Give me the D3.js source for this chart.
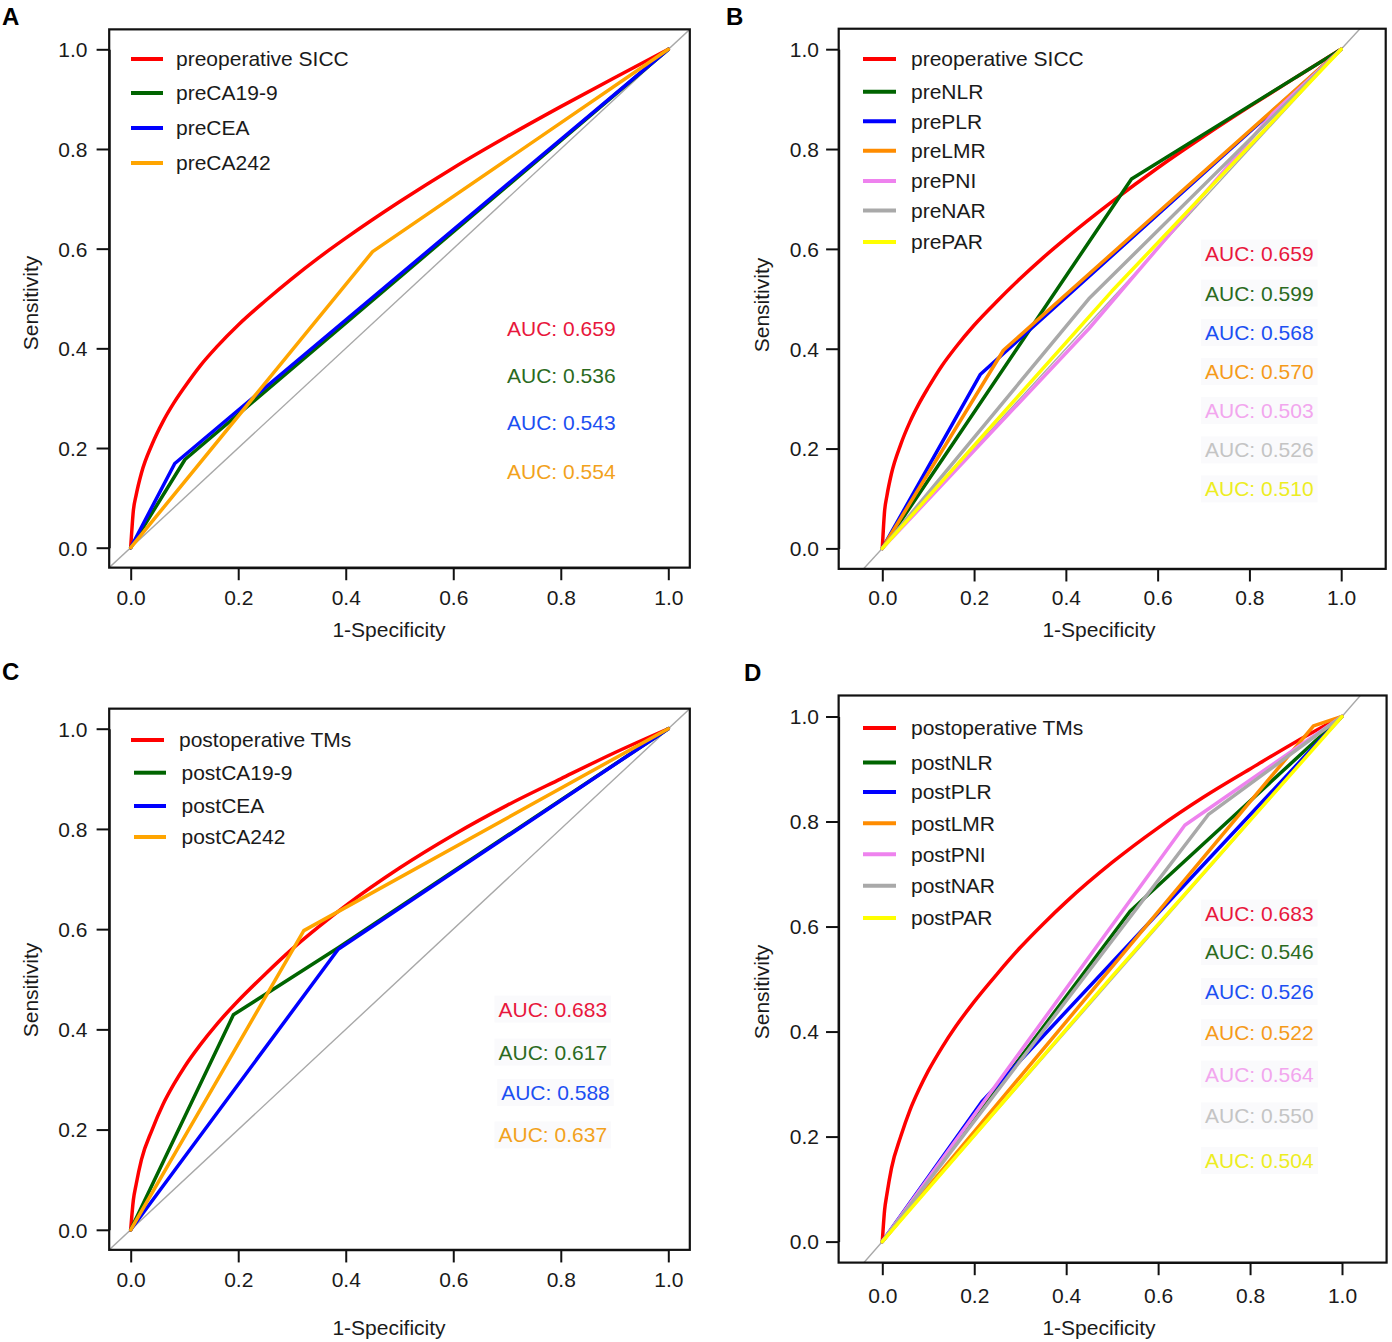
<!DOCTYPE html>
<html>
<head>
<meta charset="utf-8">
<script src="https://cdn.jsdelivr.net/npm/d3@7"></script>
<style>
  body { margin: 0; background: #fff; }
  text { font-family: "Liberation Sans", Arial, Helvetica, sans-serif; fill: #1a1a1a; }
</style>
</head>
<body>
<svg id="fig" width="1392" height="1342"></svg>
<script>
(function() {

  // tick values shared by every axis
  const tickValues = [0, 0.2, 0.4, 0.6, 0.8, 1.0];

  // smoothed ROC of the combined models, [1-specificity, sensitivity]
  const preSICC = [[0, 0], [0.005, 0.075], [0.01, 0.105], [0.02, 0.15], [0.04, 0.208], [0.06, 0.253],
    [0.08, 0.29], [0.1, 0.322], [0.13, 0.366], [0.16, 0.403], [0.2, 0.447], [0.25, 0.495],
    [0.3, 0.54], [0.35, 0.582], [0.4, 0.621], [0.5, 0.694], [0.6, 0.762], [0.7, 0.825],
    [0.8, 0.885], [0.9, 0.943], [1, 1]];
  const postTMs = [[0, 0], [0.005, 0.06], [0.01, 0.09], [0.02, 0.14], [0.04, 0.2], [0.06, 0.25],
    [0.08, 0.29], [0.1, 0.325], [0.13, 0.37], [0.16, 0.41], [0.2, 0.457], [0.25, 0.51],
    [0.3, 0.56], [0.35, 0.605], [0.4, 0.647], [0.5, 0.722], [0.6, 0.788], [0.7, 0.847],
    [0.8, 0.9], [0.9, 0.952], [1, 1]];

  // panel A
  const preCA199 = [[0, 0], [0.101, 0.177], [1, 1]];
  const preCEA = [[0, 0], [0.082, 0.169], [1, 1]];
  const preCA242 = [[0, 0], [0.45, 0.594], [1, 1]];
  const namesA = ['preoperative SICC', 'preCA19-9', 'preCEA', 'preCA242'];
  const aucA = ['0.659', '0.536', '0.543', '0.554'];

  // panel B
  const preNLR = [[0, 0], [0.543, 0.74], [1, 1]];
  const prePLR = [[0, 0], [0.214, 0.349], [1, 1]];
  const preLMR = [[0, 0], [0.264, 0.397], [1, 1]];
  const prePNI = [[0, 0], [0.45, 0.44], [0.85, 0.87], [1, 1]];
  const preNAR = [[0, 0], [0.45, 0.5], [1, 1]];
  const prePAR = [[0, 0], [0.5, 0.515], [1, 1]];
  const namesB = ['preoperative SICC', 'preNLR', 'prePLR', 'preLMR', 'prePNI', 'preNAR', 'prePAR'];
  const aucB = ['0.659', '0.599', '0.568', '0.570', '0.503', '0.526', '0.510'];

  // panel C
  const postCA199 = [[0, 0], [0.191, 0.429], [0.386, 0.563], [1, 1]];
  const postCEA = [[0, 0], [0.386, 0.56], [1, 1]];
  const postCA242 = [[0, 0], [0.322, 0.597], [1, 1]];
  const namesC = ['postoperative TMs', 'postCA19-9', 'postCEA', 'postCA242'];
  const aucC = ['0.683', '0.617', '0.588', '0.637'];

  // panel D
  const postNLR = [[0, 0], [0.539, 0.629], [1, 1]];
  const postPLR = [[0, 0], [0.218, 0.268], [1, 1]];
  const postLMR = [[0, 0], [0.938, 0.982], [1, 1]];
  const postPNI = [[0, 0], [0.658, 0.793], [1, 1]];
  const postNAR = [[0, 0], [0.709, 0.813], [1, 1]];
  const postPAR = [[0, 0], [0.5, 0.505], [1, 1]];
  const namesD = ['postoperative TMs', 'postNLR', 'postPLR', 'postLMR', 'postPNI', 'postNAR', 'postPAR'];
  const aucD = ['0.683', '0.546', '0.526', '0.522', '0.564', '0.550', '0.504'];

  const lineColors4 = ['#ff0000', '#006400', '#0000ff', '#ffa500'];
  const textColors4 = ['#e8173c', '#2b6a1e', '#1c4ff2', '#f2a21c'];
  const lineColors7 = ['#ff0000', '#006400', '#0000ff', '#ff8c00', '#ee82ee', '#a9a9a9', '#ffff00'];
  const textColors7 = ['#e8173c', '#2b6a1e', '#1c4ff2', '#f59a1a', '#f2a6ee', '#c4c4c4', '#eded22'];

  const panels = [
    {
      letter: 'A', letterX: 2, letterY: 25,
      series: [preSICC, preCA199, preCEA, preCA242], smooth: 0,
      names: namesA, auc: aucA, lineColors: lineColors4, textColors: textColors4,
      xRange: [130.7, 668.3], yRange: [547.7, 49.3], xLim: [-0.04, 1.04], yLim: [-0.04, 1.04],
      xLabY: 598, yLabX: 87.5, xTitle: [389, 630], yTitle: [30.5, 303],
      legLine: [[131, 163]], legText: [176], legY: [59, 93, 128, 163],
      aucX: [507], aucY: [328.3, 376, 422.7, 471.7], aucBg: false
    },
    {
      letter: 'B', letterX: 726, letterY: 25,
      series: [preSICC, preNLR, prePLR, preLMR, prePNI, preNAR, prePAR], smooth: 0,
      names: namesB, auc: aucB, lineColors: lineColors7, textColors: textColors7,
      xRange: [882.3, 1341.2], yRange: [548.4, 49.2], xLim: [-0.095, 1.097], yLim: [-0.041, 1.041],
      xLabY: 597.6, yLabX: 819, xTitle: [1099, 630], yTitle: [762, 305],
      legLine: [[863, 896]], legText: [911], legY: [58.9, 91.8, 121.2, 150.7, 181, 210.4, 242],
      aucX: [1205], aucY: [253.3, 293.3, 332.7, 371.7, 410.7, 450, 489], aucBg: true
    },
    {
      letter: 'C', letterX: 2, letterY: 680,
      series: [postTMs, postCA199, postCEA, postCA242], smooth: 0,
      names: namesC, auc: aucC, lineColors: lineColors4, textColors: textColors4,
      xRange: [130.7, 668.3], yRange: [1229.8, 728.7], xLim: [-0.04, 1.04], yLim: [-0.04, 1.04],
      xLabY: 1280, yLabX: 87.5, xTitle: [389, 1328], yTitle: [30.5, 990],
      legLine: [[131, 164], [134, 166]], legText: [179, 181.5], legY: [740, 772.7, 806, 837],
      aucX: [498.5, 498.5, 501.2, 498.5], aucY: [1009.3, 1052.3, 1092.7, 1135], aucBg: true
    },
    {
      letter: 'D', letterX: 744, letterY: 681,
      series: [postTMs, postNLR, postPLR, postLMR, postPNI, postNAR, postPAR], smooth: 0,
      names: namesD, auc: aucD, lineColors: lineColors7, textColors: textColors7,
      xRange: [882.3, 1342], yRange: [1241.6, 716.5], xLim: [-0.095, 1.097], yLim: [-0.04, 1.04],
      xLabY: 1296, yLabX: 819, xTitle: [1099, 1328], yTitle: [762, 992],
      legLine: [[863, 896]], legText: [911], legY: [727.9, 762.5, 792.1, 823.2, 854.3, 885.7, 917.9],
      aucX: [1205], aucY: [913.2, 951.8, 991.8, 1032.9, 1074.3, 1116.1, 1160.7], aucBg: true
    }
  ];

  const svg = d3.select('#fig');
  const fontSize = 21;
  const tickLen = 12.6;
  const pick = function(arr, i) { return arr[Math.min(i, arr.length - 1)]; };

  panels.forEach(function(p, pi) {
    const x = d3.scaleLinear().domain([0, 1]).range(p.xRange);
    const y = d3.scaleLinear().domain([0, 1]).range(p.yRange);
    const bx0 = x(p.xLim[0]), bx1 = x(p.xLim[1]);
    const by0 = y(p.yLim[1]), by1 = y(p.yLim[0]);

    const g = svg.append('g').attr('class', 'panel-' + p.letter);

    // clip for everything drawn inside the box
    const clipId = 'clip' + pi;
    g.append('clipPath').attr('id', clipId)
      .append('rect')
      .attr('x', bx0).attr('y', by0)
      .attr('width', bx1 - bx0).attr('height', by1 - by0);

    const inner = g.append('g').attr('clip-path', 'url(#' + clipId + ')');

    // reference diagonal
    inner.append('line')
      .attr('x1', x(-0.2)).attr('y1', y(-0.2))
      .attr('x2', x(1.2)).attr('y2', y(1.2))
      .attr('stroke', '#a8a8a8')
      .attr('stroke-width', 1.4);

    // ROC curves
    const line = d3.line()
      .x(function(d) { return x(d[0]); })
      .y(function(d) { return y(d[1]); });

    p.series.forEach(function(s, i) {
      inner.append('path')
        .datum(s)
        .attr('d', line.curve(i === p.smooth ? d3.curveMonotoneX : d3.curveLinear))
        .attr('fill', 'none')
        .attr('stroke', p.lineColors[i])
        .attr('stroke-width', 3.5)
        .attr('stroke-linejoin', 'round')
        .attr('stroke-linecap', 'round');
    });

    // legend
    p.names.forEach(function(name, i) {
      const ll = pick(p.legLine, i);
      g.append('line')
        .attr('x1', ll[0]).attr('x2', ll[1])
        .attr('y1', p.legY[i]).attr('y2', p.legY[i])
        .attr('stroke', p.lineColors[i])
        .attr('stroke-width', 4);
      g.append('text')
        .attr('x', pick(p.legText, i))
        .attr('y', p.legY[i])
        .attr('dy', '0.35em')
        .style('font-size', fontSize + 'px')
        .text(name);
    });

    // AUC labels
    p.auc.forEach(function(a, i) {
      const t = g.append('text')
        .attr('x', pick(p.aucX, i))
        .attr('y', p.aucY[i])
        .attr('dy', '0.35em')
        .style('font-size', fontSize + 'px')
        .style('fill', p.textColors[i])
        .text('AUC: ' + a);
      if (p.aucBg) {
        const bb = t.node().getBBox();
        g.insert('rect', 'text')
          .attr('x', bb.x - 4).attr('y', bb.y - 2)
          .attr('width', bb.width + 8).attr('height', bb.height + 4)
          .attr('fill', '#fafafc');
      }
    });

    // axes
    const xAxis = g.append('g')
      .attr('transform', 'translate(0,' + by1 + ')')
      .call(d3.axisBottom(x).tickValues(tickValues).tickFormat(d3.format('.1f'))
        .tickSize(tickLen).tickSizeOuter(0));
    xAxis.selectAll('text')
      .attr('y', p.xLabY - by1)
      .attr('dy', '0.35em');

    const yAxis = g.append('g')
      .attr('transform', 'translate(' + bx0 + ',0)')
      .call(d3.axisLeft(y).tickValues(tickValues).tickFormat(d3.format('.1f'))
        .tickSize(tickLen).tickSizeOuter(0));
    yAxis.selectAll('text')
      .attr('x', p.yLabX - bx0)
      .attr('dy', '0.35em');

    [xAxis, yAxis].forEach(function(ax) {
      ax.selectAll('path, line').attr('stroke', '#111').attr('stroke-width', 2);
      ax.selectAll('text')
        .style('font-size', fontSize + 'px')
        .style('font-family', '"Liberation Sans", Arial, sans-serif')
        .attr('fill', '#1a1a1a');
    });

    // frame
    g.append('rect')
      .attr('x', bx0).attr('y', by0)
      .attr('width', bx1 - bx0).attr('height', by1 - by0)
      .attr('fill', 'none')
      .attr('stroke', '#111')
      .attr('stroke-width', 2.2);

    // axis titles
    g.append('text')
      .attr('x', p.xTitle[0]).attr('y', p.xTitle[1])
      .attr('dy', '0.35em')
      .attr('text-anchor', 'middle')
      .style('font-size', fontSize + 'px')
      .text('1-Specificity');

    g.append('text')
      .attr('transform', 'translate(' + p.yTitle[0] + ',' + p.yTitle[1] + ') rotate(-90)')
      .attr('dy', '0.35em')
      .attr('text-anchor', 'middle')
      .style('font-size', fontSize + 'px')
      .text('Sensitivity');

    // panel letter
    g.append('text')
      .attr('x', p.letterX).attr('y', p.letterY)
      .style('font-size', '24px')
      .style('font-weight', 'bold')
      .style('fill', '#000')
      .text(p.letter);
  });
})();
</script>
</body>
</html>
